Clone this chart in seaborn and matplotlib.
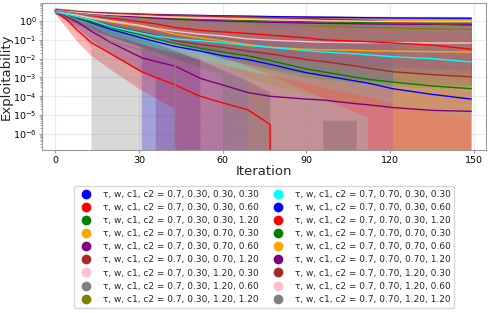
import numpy as np
import pandas as pd
import matplotlib
matplotlib.use("Agg")
import matplotlib.pyplot as plt
import seaborn as sns
from matplotlib.lines import Line2D

# exponent of exploitability (log10); Z = exploitability reached 0
Z = -np.inf

iterations = [0, 4, 8, 13, 20, 31, 36, 43, 52, 60, 69, 77, 90, 96, 108, 112, 121, 135, 149]

w_vals = [0.30, 0.30, 0.30, 0.30, 0.30, 0.30, 0.30, 0.30, 0.30,
          0.70, 0.70, 0.70, 0.70, 0.70, 0.70, 0.70, 0.70, 0.70]
c1_vals = [0.30, 0.30, 0.30, 0.70, 0.70, 0.70, 1.20, 1.20, 1.20,
           0.30, 0.30, 0.30, 0.70, 0.70, 0.70, 1.20, 1.20, 1.20]
c2_vals = [0.30, 0.60, 1.20, 0.30, 0.60, 1.20, 0.30, 0.60, 1.20,
           0.30, 0.60, 1.20, 0.30, 0.60, 1.20, 0.30, 0.60, 1.20]
colors = ["blue", "red", "green", "orange", "purple", "brown", "pink", "gray", "olive",
          "cyan", "blue", "red", "green", "orange", "purple", "brown", "pink", "gray"]

median_log10 = [
    [0.50, 0.35, 0.15, -0.10, -0.45, -0.90, -1.10, -1.35, -1.60, -1.85, -2.05, -2.30, -2.75, -2.90, -3.20, -3.30, -3.60, -3.90, -4.15],
    [0.50, 0.10, -0.50, -1.15, -1.75, -2.70, -3.00, -3.40, -4.00, -4.35, -4.72, -5.50, Z, Z, Z, Z, Z, Z, Z],
    [0.50, 0.35, 0.17, -0.05, -0.35, -0.75, -0.95, -1.20, -1.45, -1.65, -1.85, -2.10, -2.55, -2.70, -3.00, -3.10, -3.25, -3.45, -3.60],
    [0.50, 0.42, 0.30, 0.15, -0.05, -0.30, -0.45, -0.70, -0.90, -1.05, -1.25, -1.40, -1.50, -1.53, -1.56, -1.58, -1.60, -1.63, -1.65],
    [0.50, 0.25, -0.05, -0.55, -1.15, -1.95, -2.15, -2.40, -3.05, -3.40, -3.80, -4.00, -4.15, -4.20, -4.40, -4.45, -4.60, -4.75, -4.80],
    [0.50, 0.40, 0.25, 0.05, -0.25, -0.60, -0.75, -1.05, -1.25, -1.40, -1.60, -1.75, -2.05, -2.15, -2.40, -2.50, -2.70, -2.85, -2.97],
    [0.50, 0.40, 0.30, 0.15, 0.00, -0.25, -0.40, -0.55, -0.70, -0.80, -0.95, -1.02, -1.10, -1.13, -1.15, -1.15, -1.16, -1.17, -1.17],
    [0.50, 0.30, 0.05, -0.40, -1.10, -1.55, -1.80, -2.15, Z, Z, Z, Z, Z, Z, Z, Z, Z, Z, Z],
    [0.55, 0.50, 0.45, 0.38, 0.30, 0.18, 0.12, 0.05, -0.02, -0.08, -0.13, -0.18, -0.25, -0.28, -0.33, -0.35, -0.38, -0.42, -0.45],
    [0.50, 0.38, 0.22, 0.05, -0.30, -0.65, -0.80, -0.95, -1.05, -1.15, -1.30, -1.40, -1.58, -1.65, -1.75, -1.80, -1.90, -2.00, -2.18],
    [0.55, 0.52, 0.48, 0.44, 0.40, 0.35, 0.33, 0.31, 0.29, 0.27, 0.25, 0.23, 0.21, 0.20, 0.18, 0.17, 0.16, 0.15, 0.14],
    [0.55, 0.50, 0.40, 0.30, 0.15, -0.05, -0.15, -0.35, -0.50, -0.58, -0.66, -0.75, -0.90, -1.00, -1.08, -1.10, -1.17, -1.28, -1.50],
    [0.55, 0.50, 0.45, 0.40, 0.33, 0.25, 0.21, 0.17, 0.12, 0.08, 0.04, 0.01, -0.03, -0.05, -0.07, -0.08, -0.09, -0.10, -0.10],
    [0.55, 0.50, 0.45, 0.40, 0.35, 0.28, 0.25, 0.21, 0.17, 0.14, 0.11, 0.09, 0.06, 0.05, 0.04, 0.03, 0.03, 0.02, 0.02],
    [0.55, 0.50, 0.44, 0.38, 0.30, 0.20, 0.15, 0.10, 0.04, 0.00, -0.04, -0.07, -0.11, -0.13, -0.15, -0.16, -0.17, -0.18, -0.19],
    [0.58, 0.55, 0.50, 0.45, 0.40, 0.35, 0.33, 0.30, 0.27, 0.24, 0.21, 0.18, 0.13, 0.10, 0.05, 0.02, -0.05, -0.15, -0.25],
    [0.55, 0.50, 0.45, 0.40, 0.34, 0.27, 0.23, 0.19, 0.15, 0.12, 0.09, 0.06, 0.03, 0.01, -0.01, -0.02, -0.03, -0.04, -0.04],
    [0.55, 0.48, 0.40, 0.32, 0.22, 0.10, 0.05, 0.00, -0.06, -0.10, -0.14, -0.17, -0.21, -0.23, -0.25, -0.26, -0.27, -0.28, -0.30],
]

upper_log10 = [
    [0.62, 0.55, 0.45, 0.30, 0.10, -0.20, -0.35, -0.55, -0.80, -1.00, -1.20, -1.40, -1.75, -1.90, -2.15, -2.25, -2.50, -2.80, -3.00],
    [0.62, 0.48, 0.25, -0.05, -0.45, -1.00, -1.25, -1.55, -1.95, -2.30, -2.60, -2.90, -3.30, -3.45, -3.70, -3.80, -3.95, -4.10, -4.25],
    [0.60, 0.52, 0.42, 0.30, 0.12, -0.15, -0.30, -0.50, -0.70, -0.85, -1.00, -1.15, -1.45, -1.55, -1.75, -1.80, -1.95, -2.10, -2.20],
    [0.62, 0.56, 0.48, 0.38, 0.25, 0.05, -0.05, -0.20, -0.35, -0.45, -0.60, -0.70, -0.80, -0.85, -0.90, -0.92, -0.95, -1.00, -1.02],
    [0.60, 0.45, 0.25, -0.10, -0.55, -1.20, -1.40, -1.60, -2.10, -2.40, -2.70, -2.90, -3.10, -3.20, -3.40, -3.45, -3.60, -3.70, -3.80],
    [0.62, 0.55, 0.45, 0.30, 0.10, -0.15, -0.25, -0.45, -0.60, -0.70, -0.85, -0.95, -1.20, -1.25, -1.45, -1.50, -1.65, -1.75, -1.85],
    [0.62, 0.56, 0.48, 0.38, 0.28, 0.10, 0.02, -0.08, -0.18, -0.25, -0.35, -0.42, -0.50, -0.52, -0.55, -0.56, -0.57, -0.58, -0.60],
    [0.62, 0.50, 0.30, 0.00, -0.50, -0.95, -1.15, -1.45, -1.60, -1.80, -2.00, -2.10, -2.30, -2.40, -2.60, -2.65, -2.80, -2.90, -3.00],
    [0.65, 0.60, 0.55, 0.50, 0.45, 0.38, 0.35, 0.30, 0.26, 0.22, 0.18, 0.15, 0.10, 0.08, 0.05, 0.04, 0.02, 0.00, -0.02],
    [0.62, 0.55, 0.45, 0.32, 0.10, -0.15, -0.25, -0.35, -0.45, -0.52, -0.62, -0.70, -0.85, -0.90, -1.00, -1.02, -1.10, -1.18, -1.30],
    [0.70, 0.62, 0.55, 0.50, 0.45, 0.40, 0.38, 0.36, 0.34, 0.32, 0.30, 0.29, 0.27, 0.26, 0.25, 0.25, 0.24, 0.24, 0.23],
    [0.65, 0.62, 0.55, 0.48, 0.38, 0.25, 0.18, 0.08, -0.02, -0.08, -0.15, -0.20, -0.30, -0.35, -0.40, -0.42, -0.48, -0.55, -0.70],
    [0.68, 0.62, 0.56, 0.52, 0.46, 0.40, 0.37, 0.34, 0.31, 0.28, 0.26, 0.24, 0.21, 0.20, 0.19, 0.18, 0.17, 0.16, 0.16],
    [0.68, 0.62, 0.57, 0.52, 0.47, 0.42, 0.39, 0.36, 0.33, 0.31, 0.29, 0.27, 0.25, 0.24, 0.23, 0.23, 0.22, 0.22, 0.21],
    [0.68, 0.62, 0.56, 0.50, 0.43, 0.35, 0.32, 0.28, 0.24, 0.21, 0.18, 0.16, 0.13, 0.12, 0.10, 0.10, 0.09, 0.08, 0.08],
    [0.70, 0.64, 0.58, 0.54, 0.50, 0.45, 0.43, 0.40, 0.37, 0.34, 0.32, 0.30, 0.27, 0.26, 0.24, 0.23, 0.22, 0.21, 0.20],
    [0.68, 0.63, 0.58, 0.53, 0.48, 0.42, 0.39, 0.36, 0.33, 0.31, 0.29, 0.27, 0.25, 0.24, 0.23, 0.23, 0.22, 0.22, 0.22],
    [0.68, 0.62, 0.55, 0.48, 0.40, 0.32, 0.29, 0.25, 0.21, 0.18, 0.15, 0.13, 0.10, 0.09, 0.07, 0.07, 0.06, 0.05, 0.05],
]

lower_log10 = [
    [0.40, 0.10, -0.20, -0.50, -0.85, -1.40, Z, Z, Z, Z, Z, Z, Z, Z, Z, Z, Z, Z, Z],
    [0.38, -0.35, -1.10, -1.85, -2.60, -3.70, -4.10, -4.70, Z, Z, Z, Z, Z, Z, Z, Z, Z, Z, Z],
    [0.40, 0.15, -0.15, -0.45, -0.85, -1.40, -1.65, -2.00, -2.50, -2.90, Z, Z, Z, Z, Z, Z, Z, Z, Z],
    [0.40, 0.25, 0.05, -0.15, -0.45, -0.80, -1.00, -1.30, -1.60, -1.85, -2.10, Z, Z, Z, Z, Z, Z, Z, Z],
    [0.40, 0.00, -0.40, -1.00, -1.80, -2.70, -3.00, Z, Z, Z, Z, Z, Z, Z, Z, Z, Z, Z, Z],
    [0.40, 0.20, 0.00, -0.25, -0.65, -1.10, -1.35, -1.70, -2.00, -2.25, -2.50, -2.70, -3.10, -3.25, -3.60, -3.70, -4.00, -4.20, -4.40],
    [0.40, 0.20, 0.05, -0.15, -0.40, -0.80, -1.00, -1.30, -1.70, Z, Z, Z, Z, Z, Z, Z, Z, Z, Z],
    [0.40, 0.05, -0.35, -1.45, Z, Z, Z, Z, Z, Z, Z, Z, Z, Z, Z, Z, Z, Z, Z],
    [0.45, 0.35, 0.25, 0.10, -0.10, -0.50, -0.80, -1.20, -1.80, -2.40, -3.00, -3.40, -3.90, -4.10, -4.40, -4.50, -4.60, -4.70, -4.80],
    [0.40, 0.20, 0.00, -0.25, -0.75, -1.20, -1.45, -1.70, -2.00, -2.30, -2.60, -2.90, -3.30, -3.50, -3.90, -4.00, -4.40, -4.80, -5.20],
    [0.40, 0.30, 0.15, -0.05, -0.30, -0.70, -0.90, -1.20, -1.60, -2.00, -2.30, -2.50, -2.80, -2.90, -3.10, -3.15, -3.25, -3.35, -3.40],
    [0.45, 0.35, 0.20, 0.05, -0.20, -0.55, -0.75, -1.10, -1.50, -1.90, -2.40, -2.90, -3.70, -4.10, -4.90, -5.10, Z, Z, -5.10],
    [0.42, 0.35, 0.25, 0.10, -0.15, -0.60, -0.80, -1.10, -1.50, -1.90, -2.30, -2.60, -3.00, -3.10, -3.30, -3.35, -3.45, -3.55, -3.60],
    [0.42, 0.35, 0.25, 0.12, -0.10, -0.40, -0.50, -0.65, -0.80, -0.85, -0.90, -0.95, -1.00, -1.00, -1.00, -1.00, -1.00, Z, Z],
    [0.42, 0.32, 0.20, 0.00, -0.30, -0.70, -0.90, -1.15, -1.40, -1.60, -1.80, -1.95, -2.10, -2.20, -2.30, -2.35, -2.45, -2.55, -2.60],
    [0.45, 0.38, 0.28, 0.15, -0.05, -0.40, -0.55, -0.80, -1.10, -1.40, -1.70, -1.90, -2.20, -2.30, -2.50, -2.55, -2.70, -2.85, -3.00],
    [0.42, 0.30, 0.15, -0.05, -0.40, -0.90, -1.20, -1.60, -2.10, -2.60, -3.20, -3.80, Z, -5.30, -5.30, Z, Z, Z, Z],
    [0.42, 0.28, 0.12, -0.10, -0.40, -0.80, -1.00, -1.25, -1.50, -1.70, -1.90, -2.05, -2.25, -2.35, -2.50, -2.55, -2.65, -2.75, -2.80],
]

labels = [f"τ, w, c1, c2 = 0.7, {w:.2f}, {c1:.2f}, {c2:.2f}"
          for w, c1, c2 in zip(w_vals, c1_vals, c2_vals)]

sns.set_style("whitegrid", {
    "axes.edgecolor": "0.6",
    "grid.color": "0.92",
    "xtick.bottom": True,
    "ytick.left": True,
    "xtick.color": "0.6",
    "ytick.color": "0.6",
})
plt.rcParams["font.family"] = ["DejaVu Sans"]

rows = []
for lab, med in zip(labels, median_log10):
    for it, m in zip(iterations, med):
        rows.append({"Iteration": it, "Exploitability": 10.0 ** m, "run": lab})
df = pd.DataFrame(rows)

fig, ax = plt.subplots(figsize=(4.89, 3.13), dpi=100)
fig.subplots_adjust(left=42 / 489, right=486 / 489, top=1 - 3 / 313, bottom=1 - 150 / 313)

for lo, hi, c in zip(lower_log10, upper_log10, colors):
    ax.fill_between(iterations, np.power(10.0, lo), np.power(10.0, hi),
                    color=c, alpha=0.3, linewidth=0)

sns.lineplot(data=df, x="Iteration", y="Exploitability", hue="run", hue_order=labels,
             palette=colors, estimator=None, legend=False, linewidth=1.0, ax=ax)

ax.set_yscale("log")
ax.set_ylim(1.4e-7, 9)
ax.set_xlim(-4.7, 154.3)
ax.set_xticks([0, 30, 60, 90, 120, 150])
ax.tick_params(axis="both", which="major", labelsize=6.8, labelcolor="black", length=2.5, pad=1.5)
ax.tick_params(axis="y", which="minor", length=1.5)
ax.set_xlabel("Iteration", fontsize=9.5, labelpad=0)
ax.set_ylabel("Exploitability", fontsize=9.5, labelpad=0)

handles = [Line2D([], [], marker="o", linestyle="", color=c, markersize=6, label=lab)
           for c, lab in zip(colors, labels)]
ax.legend(handles=handles, loc="upper center", bbox_to_anchor=(0.5, -0.215), ncol=2,
          fontsize=6.5, labelspacing=0.46, columnspacing=1.2, frameon=True)

fig.savefig("out.png", dpi=100)
